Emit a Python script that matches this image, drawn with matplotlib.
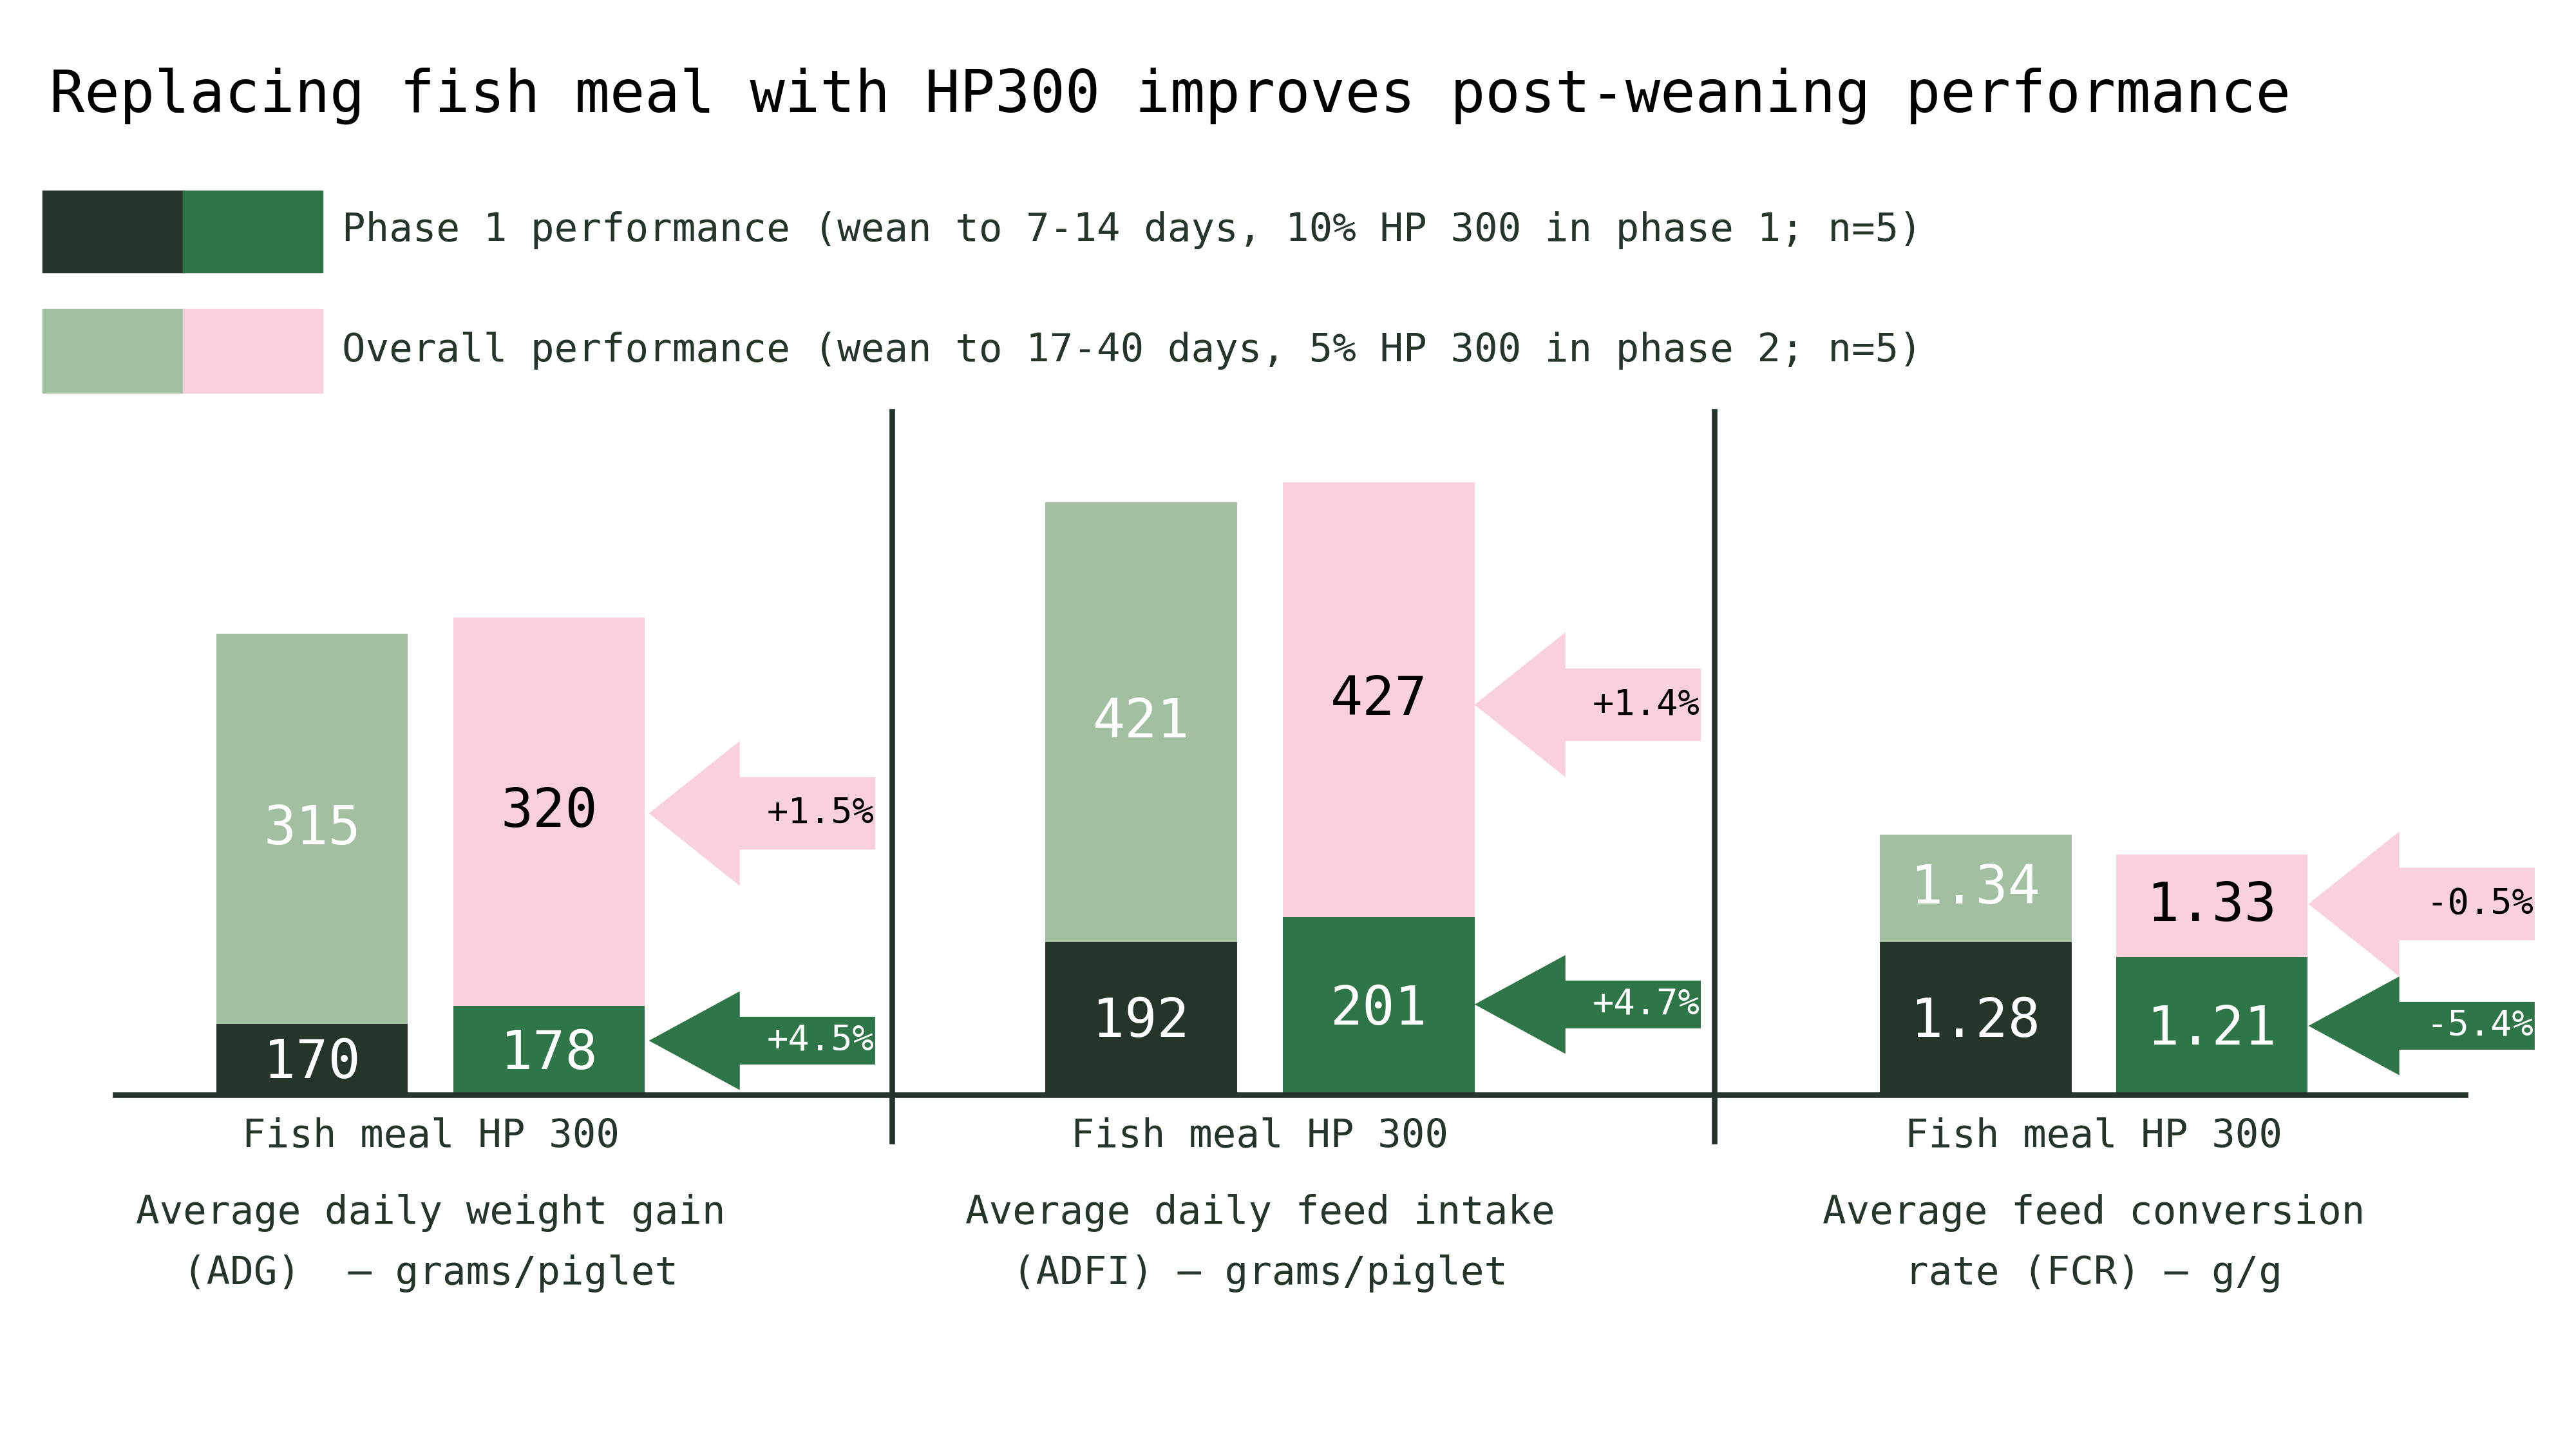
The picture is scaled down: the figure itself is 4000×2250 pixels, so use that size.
import matplotlib.pyplot as plt
from matplotlib.patches import Polygon, Rectangle

# values shown on the chart
groups = ["Fish meal", "HP 300"]
panel_titles = ["Average daily weight gain\n(ADG)  \u2013 grams/piglet",
                "Average daily feed intake\n(ADFI) \u2013 grams/piglet",
                "Average feed conversion\nrate (FCR) \u2013 g/g"]
phase1_labels = [["170", "178"], ["192", "201"], ["1.28", "1.21"]]
overall_labels = [["315", "320"], ["421", "427"], ["1.34", "1.33"]]
# drawn bar lengths (truncated axes, in reference px)
phase1_len = [[43, 54], [93, 108], [93, 84]]
overall_len = [[280, 290], [360, 372], [158, 146]]
overall_delta = ["+1.5%", "+1.4%", "-0.5%"]
phase1_delta = ["+4.5%", "+4.7%", "-5.4%"]

DARK = "#253529"
GREEN = "#2e7647"
LGREEN = "#a2bfa2"
PINK = "#f9d0dc"
FONT = "DejaVu Sans Mono"

W, H = 1560, 880
base = H - 665
bw = 116
centers = [(189, 332.5), (691, 835), (1196.5, 1339.5)]

fig = plt.figure(figsize=(16, 9), dpi=250)
ax = fig.add_axes([0, 0, 1, 1])
ax.set_xlim(0, W)
ax.set_ylim(0, H)
ax.axis("off")

def Y(y):
    return H - y

ax.text(30, Y(58), "Replacing fish meal with HP300 improves post-weaning performance",
        fontsize=26, family=FONT, va="center", ha="left", color="black")

# legend
ax.add_patch(Rectangle((26, Y(165)), 85, 49, color=DARK))
ax.add_patch(Rectangle((111, Y(165)), 84, 49, color=GREEN))
ax.add_patch(Rectangle((26, Y(238)), 85, 50, color=LGREEN))
ax.add_patch(Rectangle((111, Y(238)), 84, 50, color=PINK))
ax.text(207, Y(140), "Phase 1 performance (wean to 7-14 days, 10% HP 300 in phase 1; n=5)",
        fontsize=17.5, family=FONT, va="center", color=DARK)
ax.text(207, Y(213), "Overall performance (wean to 17-40 days, 5% HP 300 in phase 2; n=5)",
        fontsize=17.5, family=FONT, va="center", color=DARK)

def arrow(tip_x, yc, head_h, body_h, end_x, color, label, tcolor):
    hl = 55
    pts = [(tip_x, Y(yc)), (tip_x + hl, Y(yc - head_h / 2)), (tip_x + hl, Y(yc - body_h / 2)),
           (end_x, Y(yc - body_h / 2)), (end_x, Y(yc + body_h / 2)),
           (tip_x + hl, Y(yc + body_h / 2)), (tip_x + hl, Y(yc + head_h / 2))]
    ax.add_patch(Polygon(pts, closed=True, color=color, lw=0))
    ax.text((tip_x + hl + end_x) / 2 + 8, Y(yc), label, fontsize=16, family=FONT,
            ha="center", va="center", color=tcolor)

arrow_pink_y = [494, 428, 549]
arrow_green_y = [632, 610, 623]
arrow_tip = [393, 893, 1398]
arrow_end = [530, 1030, 1535]

for p in range(3):
    for g in range(2):
        x = centers[p][g]
        ov = overall_len[p][g]
        ph = phase1_len[p][g]
        ov_col = LGREEN if g == 0 else PINK
        ph_col = DARK if g == 0 else GREEN
        ax.bar(x, ov, width=bw, bottom=base, color=ov_col, zorder=2)
        ax.bar(x, ph, width=bw, bottom=base, color=ph_col, zorder=3)
        ax.text(x, base + (ph + ov) / 2, overall_labels[p][g], fontsize=24, family=FONT,
                ha="center", va="center", color="white" if g == 0 else "black", zorder=4)
        ax.text(x, base + ph / 2 - 2, phase1_labels[p][g], fontsize=24, family=FONT,
                ha="center", va="center", color="white", zorder=4)
    ax.text((centers[p][0] + centers[p][1]) / 2, Y(690), "Fish meal HP 300",
            fontsize=17.5, family=FONT, ha="center", va="center", color=DARK)
    ax.text((centers[p][0] + centers[p][1]) / 2, Y(755), panel_titles[p],
            fontsize=17.5, family=FONT, ha="center", va="center", color=DARK,
            linespacing=1.75)
    arrow(arrow_tip[p], arrow_pink_y[p], 88, 44, arrow_end[p], PINK, overall_delta[p], "black")
    arrow(arrow_tip[p], arrow_green_y[p], 60, 29, arrow_end[p], GREEN, phase1_delta[p], "white")

ax.plot([70, 1493], [base, base], color=DARK, lw=2.5, zorder=5)
for dx in [540, 1038]:
    ax.plot([dx, dx], [Y(250), Y(693)], color=DARK, lw=2.5, zorder=5)

fig.savefig("out.png", dpi=250, facecolor="white")
